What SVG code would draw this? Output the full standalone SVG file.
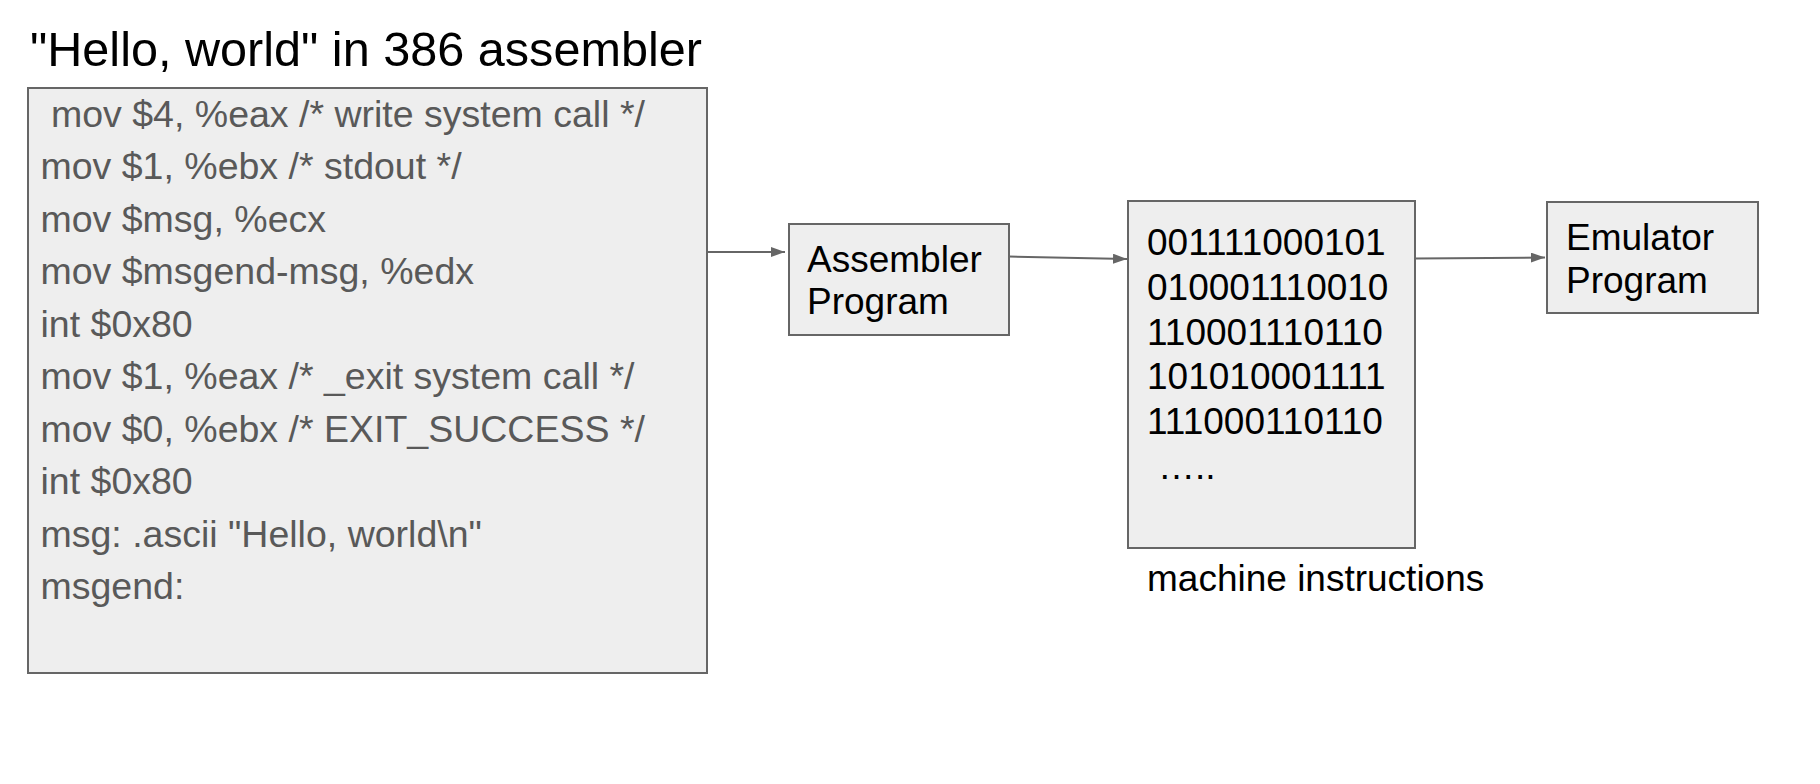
<svg xmlns="http://www.w3.org/2000/svg" width="1820" height="784" viewBox="0 0 1820 784">
<style>
.box{fill:#eeeeee;stroke:#666666;stroke-width:2}
.t{font-family:"Liberation Sans",Arial,sans-serif;fill:#000000}
.code{font-family:"Liberation Sans",Arial,sans-serif;font-size:37.5px;fill:#595959}
.lbl{font-size:37px}
.bin{font-size:37px}
.conn{stroke:#666666;stroke-width:2;fill:none;marker-end:url(#ah)}
</style>
<defs>
<marker id="ah" viewBox="0 0 14 10" refX="14" refY="5" markerWidth="14" markerHeight="10" markerUnits="userSpaceOnUse" orient="auto">
<path d="M0,0 L14,5 L0,10 Z" fill="#666666"/>
</marker>
</defs>
<rect width="1820" height="784" fill="#ffffff"/>
<text class="t" x="30" y="65.5" font-size="48.6">"Hello, world" in 386 assembler</text>
<g id="code">
<rect class="box" x="28" y="88" width="679" height="585"/>
<text class="code" x="51" y="126.5">mov $4, %eax /* write system call */</text>
<text class="code" x="40.5" y="179">mov $1, %ebx /* stdout */</text>
<text class="code" x="40.5" y="231.5">mov $msg, %ecx</text>
<text class="code" x="40.5" y="284">mov $msgend-msg, %edx</text>
<text class="code" x="40.5" y="336.5">int $0x80</text>
<text class="code" x="40.5" y="389">mov $1, %eax /* _exit system call */</text>
<text class="code" x="40.5" y="441.5">mov $0, %ebx /* EXIT_SUCCESS */</text>
<text class="code" x="40.5" y="494">int $0x80</text>
<text class="code" x="40.5" y="546.5">msg: .ascii "Hello, world\n"</text>
<text class="code" x="40.5" y="599">msgend:</text>
</g>
<g id="assembler">
<rect class="box" x="789" y="224" width="220" height="111"/>
<text class="t lbl" x="807" y="272">Assembler</text>
<text class="t lbl" x="807" y="314">Program</text>
</g>
<g id="machine">
<rect class="box" x="1128" y="201" width="287" height="347"/>
<text class="t bin" x="1147" y="255">001111000101</text>
<text class="t bin" x="1147" y="299.75">010001110010</text>
<text class="t bin" x="1147" y="344.5">110001110110</text>
<text class="t bin" x="1147" y="389.25">101010001111</text>
<text class="t bin" x="1147" y="434">111000110110</text>
<text class="t bin" x="1158" y="478.5">…..</text>
<text class="t lbl" x="1147" y="591">machine instructions</text>
</g>
<g id="emulator">
<rect class="box" x="1547" y="202" width="211" height="111"/>
<text class="t lbl" x="1566" y="249.5">Emulator</text>
<text class="t lbl" x="1566" y="292.5">Program</text>
</g>
<g id="connectors">
<path class="conn" d="M707,252 L785,252"/>
<path class="conn" d="M1009,256.5 L1127,259"/>
<path class="conn" d="M1415,258.5 L1545,257.5"/>
</g>
</svg>
